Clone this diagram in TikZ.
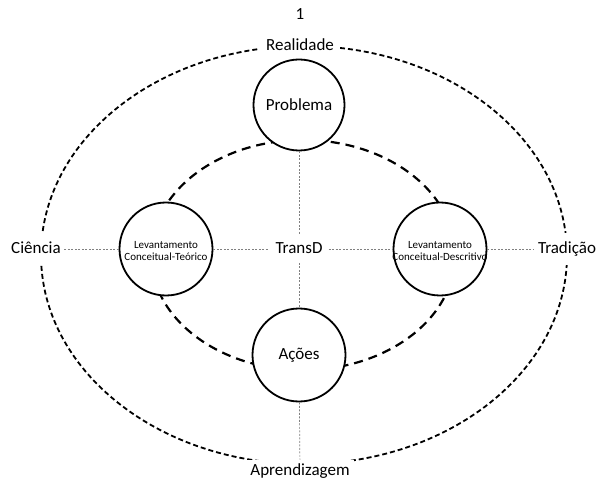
\documentclass[tikz,border=0pt]{standalone}
\usepackage{fontspec}
\setmainfont{Carlito}
\usetikzlibrary{calc}

\begin{document}
\begin{tikzpicture}[
    x=1pt, y=-1pt,
    etapa/.style={circle, draw, line width=1.8pt, fill=white, minimum size=93pt, inner sep=0pt, font=\fontsize{17}{20}\selectfont},
    rotulo/.style={fill=white, inner sep=3.5pt, text height=12pt, text depth=3.5pt, font=\fontsize{17}{20}\selectfont},
    pequeno/.style={align=center, inner sep=0pt, font=\fontsize{11}{12.5}\selectfont},
    ligacao/.style={draw=gray, line width=0.7pt, dash pattern=on 2pt off 1.5pt}
]
    \useasboundingbox (0,0) rectangle (597,478);

    % Outer ellipse
    \draw[line width=1.8pt, dash pattern=on 5pt off 3pt] (304,255) ellipse [x radius=263, y radius=209];

    % Inner ellipse
    \draw[line width=2.2pt, dash pattern=on 9pt off 6pt] (303,255) ellipse [x radius=152, y radius=115];

    % Page number
    \node[rotulo, fill=none] (num) at (300,15) {1};

    % Labels on the outer ellipse
    \node[rotulo, inner xsep=6pt] (real) at (300,46) {Realidade};
    \node[rotulo, inner xsep=4.5pt] (apren) at (300,471) {Aprendizagem};
    \node[rotulo, inner ysep=8pt] (cien) at (36,249) {Ciência};
    \node[rotulo, inner ysep=8pt] (trad) at (567,249) {Tradição};

    % Centre
    \node[rotulo, inner sep=6pt] (transd) at (299,249) {TransD};

    % Circles
    \node[etapa, minimum size=91pt] (prob) at (299,105) {Problema};
    \node[etapa] (acoes) at (299,355) {Ações};
    \node[etapa] (lct) at (166,249) {};
    \node[etapa] (lcd) at (440,249) {};
    \node[pequeno] (lcttxt) at ($(lct)+(0,2)$) {Levantamento\\Conceitual-Teórico};
    \node[pequeno] (lcdtxt) at ($(lcd)+(0,2)$) {Levantamento\\Conceitual-Descritivo};

    % Dotted links
    \draw[ligacao] (cien) -- (lct);
    \draw[ligacao] (lct) -- (transd);
    \draw[ligacao] (transd) -- (lcd);
    \draw[ligacao] (lcd) -- (trad);
    \draw[ligacao] (prob) -- (transd);
    \draw[ligacao] (transd) -- (acoes);
    \draw[ligacao] (acoes) -- (apren);
\end{tikzpicture}
\end{document}
